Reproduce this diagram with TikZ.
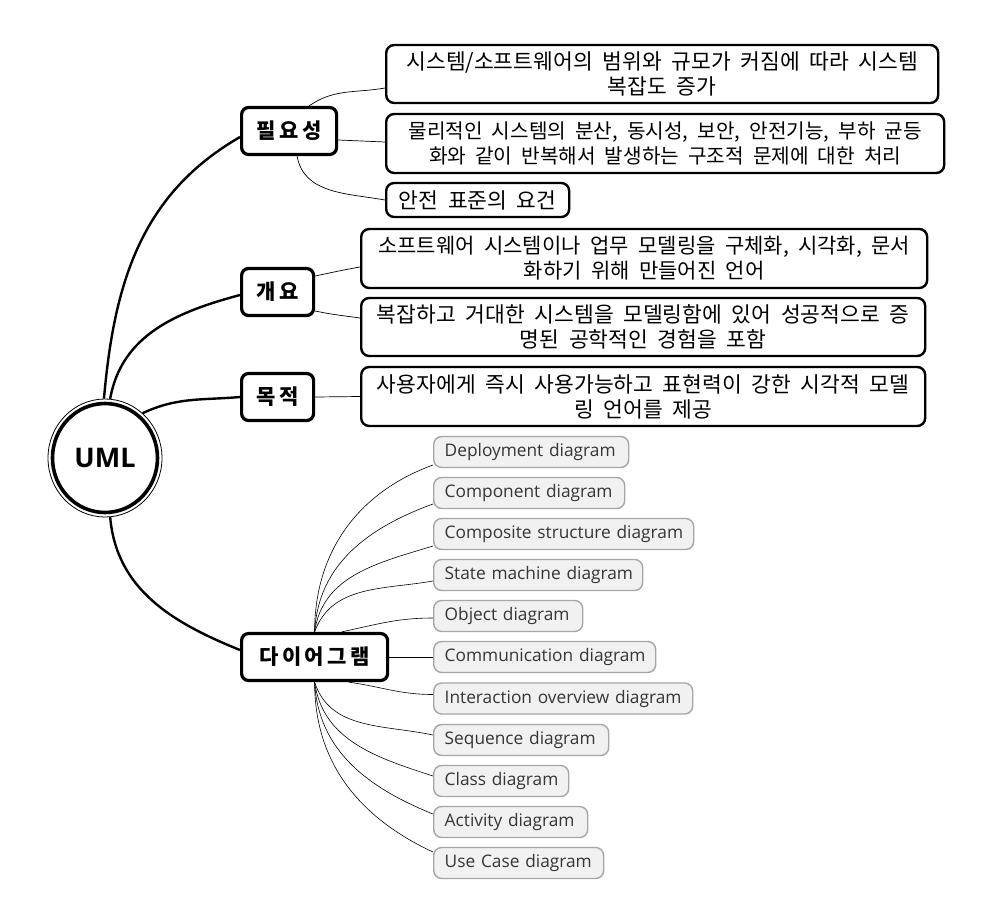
\documentclass[tikz,border=0pt]{standalone}
\usepackage{fontspec}
\setmainfont{Open Sans}
\newfontfamily\kr[WordSpace=2]{Noto Sans CJK KR}
\usetikzlibrary{shapes.geometric}
\definecolor{boxgray}{HTML}{A6A6A6}
\definecolor{boxfill}{HTML}{F1F1F1}
\definecolor{labgray}{HTML}{353535}
\begin{document}
\begin{tikzpicture}[x=1pt,y=-1pt,
  trunk/.style={line width=2.4pt},
  twig/.style={line width=0.7pt},
  fan/.style={line width=0.6pt},
  topic/.style={draw, line width=3.2pt, rounded corners=7pt, fill=white, minimum height=47pt, anchor=west, inner sep=0pt, font=\kr\bfseries\fontsize{21}{25}\selectfont},
  leaf/.style={draw, line width=2.4pt, rounded corners=8pt, fill=white, anchor=west, inner sep=0pt, align=center, font=\kr\fontsize{21.5}{25}\selectfont},
  dia/.style={draw=boxgray, line width=1.4pt, rounded corners=8pt, fill=boxfill, anchor=west, minimum height=31pt, inner xsep=11pt, inner ysep=0pt, text=labgray, align=left, font=\fontsize{17.3}{20}\selectfont}
]
\useasboundingbox (0,0) rectangle (981,920);

% centre
\node[ellipse, draw, line width=0.8pt, minimum width=114pt, minimum height=118pt, inner sep=0pt, font=\bfseries\fontsize{27}{30}\selectfont] (uml) at (105,458) {UML};
\draw[line width=3.6pt] (uml.center) ellipse [x radius=52.5, y radius=54.5];

% topics
\node[topic, minimum width=95pt] (need) at (240,131) {필\,요\,성};
\node[topic, minimum width=72pt] (over) at (240,292) {개\,요};
\node[topic, minimum width=72pt] (goal) at (240,397) {목\,적};
\node[topic, minimum width=146pt] (diag) at (240,657) {다\,이\,어\,그\,램};

% leaves
\node[leaf, minimum width=552pt, minimum height=58pt] (n1) at (385,74) {시스템/소프트웨어의 범위와 규모가 커짐에 따라 시스템\\복잡도 증가};
\node[leaf, minimum width=558pt, minimum height=59pt, font=\kr\fontsize{20.2}{25}\selectfont] (n2) at (385,143.5) {물리적인 시스템의 분산, 동시성, 보안, 안전기능, 부하 균등\\화와 같이 반복해서 발생하는 구조적 문제에 대한 처리};
\node[leaf, minimum width=183pt, minimum height=34pt] (n3) at (385,200) {안전 표준의 요건};
\node[leaf, minimum width=566pt, minimum height=59pt, font=\kr\fontsize{21}{25}\selectfont] (o1) at (360,258.5) {소프트웨어 시스템이나 업무 모델링을 구체화, 시각화, 문서\\화하기 위해 만들어진 언어};
\node[leaf, minimum width=564pt, minimum height=58pt] (o2) at (360,327) {복잡하고 거대한 시스템을 모델링함에 있어 성공적으로 증\\명된 공학적인 경험을 포함};
\node[leaf, minimum width=564pt, minimum height=59pt] (p1) at (360,396.5) {사용자에게 즉시 사용가능하고 표현력이 강한 시각적 모델\\링 언어를 제공};

% diagram kinds
\node[dia, text width=173pt] (d1) at (433,452) {\mbox{Deployment diagram}};
\node[dia, text width=169pt] (d2) at (433,493) {\mbox{Component diagram}};
\node[dia, text width=238pt] (d3) at (433,534) {\mbox{Composite structure diagram}};
\node[dia, text width=187pt] (d4) at (433,575) {\mbox{State machine diagram}};
\node[dia, text width=127pt] (d5) at (433,616) {\mbox{Object diagram}};
\node[dia, text width=200pt] (d6) at (433,657) {\mbox{Communication diagram}};
\node[dia, text width=237pt] (d7) at (433,698.5) {\mbox{Interaction overview diagram}};
\node[dia, text width=153pt] (d8) at (433,740) {\mbox{Sequence diagram}};
\node[dia, text width=113pt] (d9) at (433,781) {\mbox{Class diagram}};
\node[dia, text width=132pt] (d10) at (433,822) {\mbox{Activity diagram}};
\node[dia, text width=148pt] (d11) at (433,863) {\mbox{Use Case diagram}};

% trunks
\draw[trunk] (uml.91) to[out=85,in=210] ([yshift=-6pt]need.west);
\draw[trunk] (uml.85) to[out=80,in=195] ([yshift=-3pt]over.west);
\draw[trunk] (uml.50) to[out=25,in=185] (goal.west);
\draw[trunk] (uml.275) to[out=-85,in=158] ([yshift=7pt]diag.west);

% twigs
\draw[twig] ([xshift=20pt]need.north) to[out=35,in=190] ([yshift=-14pt]n1.west);
\draw[twig] ([yshift=-9pt]need.east) -- ([yshift=1.5pt]n2.west);
\draw[twig] ([xshift=8pt]need.south) to[out=-80,in=170] (n3.west);
\draw[twig] ([yshift=16pt]over.east) to[out=12,in=190] ([yshift=-8.5pt]o1.west);
\draw[twig] ([yshift=-19pt]over.east) to[out=-12,in=172] ([yshift=9pt]o2.west);
\draw[twig] (goal.east) -- (p1.west);

% fan
\draw[fan] (diag.north) to[out=90,in=200] ([yshift=-13pt]d1.west);
\draw[fan] (diag.north) to[out=87,in=200] ([yshift=-11pt]d2.west);
\draw[fan] (diag.north) to[out=82,in=197] ([yshift=-12pt]d3.west);
\draw[fan] (diag.north) to[out=70,in=190] ([yshift=-6pt]d4.west);
\draw[fan] ([xshift=27pt]diag.north) to[out=12,in=180] ([yshift=-2pt]d5.west);
\draw[fan] (diag.east) -- (d6.west);
\draw[fan] ([xshift=34pt]diag.south) to[out=-8,in=180] ([yshift=4pt]d7.west);
\draw[fan] (diag.south) to[out=-72,in=168] ([yshift=5pt]d8.west);
\draw[fan] (diag.south) to[out=-82,in=162] ([yshift=5pt]d9.west);
\draw[fan] (diag.south) to[out=-87,in=158] ([yshift=8pt]d10.west);
\draw[fan] (diag.south) to[out=-90,in=155] ([yshift=11pt]d11.west);
\end{tikzpicture}
\end{document}
